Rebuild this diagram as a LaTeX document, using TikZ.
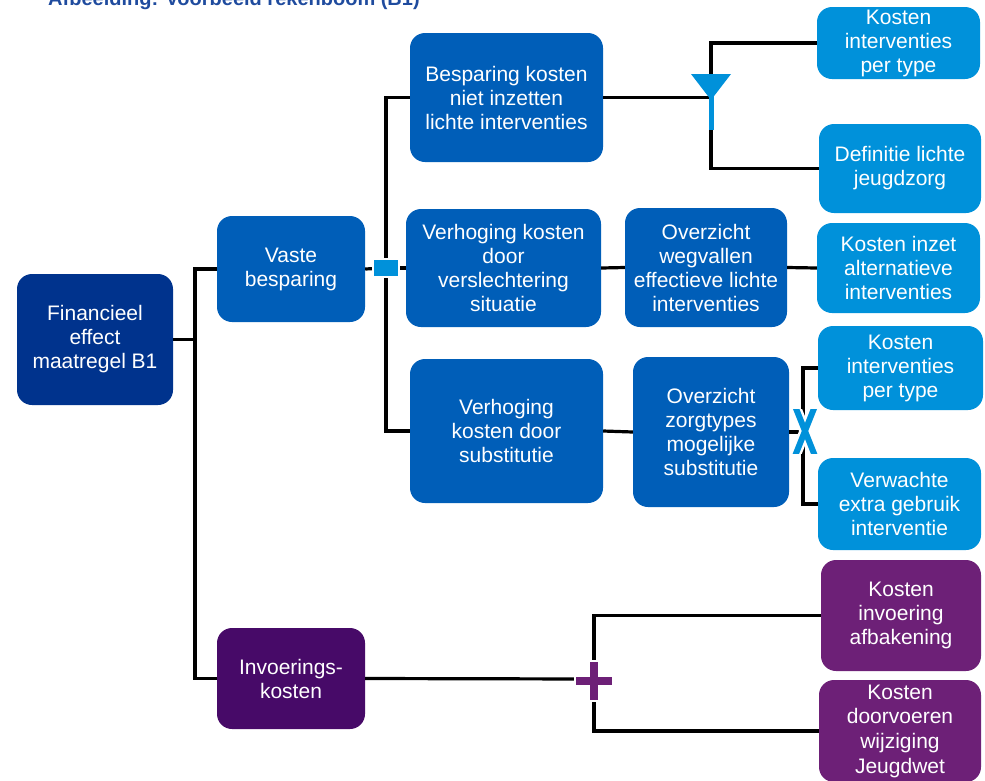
\documentclass[tikz,border=0pt]{standalone}
\usepackage{fontspec}
\setmainfont{Liberation Sans}
\definecolor{kdark}{HTML}{00338D}
\definecolor{kmed}{HTML}{005EB8}
\definecolor{klight}{HTML}{0091DA}
\definecolor{kpurp}{HTML}{470A68}
\definecolor{kviol}{HTML}{6D2077}
\definecolor{ktitle}{HTML}{1F4B9E}
\tikzset{
  box/.style={rectangle, rounded corners=15pt, draw=none, text=white, align=center,
    inner sep=0pt, font=\fontsize{21}{24}\selectfont,
    execute at begin node={\rule{0pt}{20pt}}},
  conn/.style={draw=black, line width=3.2pt},
}
\begin{document}
\begin{tikzpicture}[x=1pt,y=-1pt]
\useasboundingbox (0,0) rectangle (985,780);
% title (clipped at top, as in the reference)
\node[anchor=base west, inner sep=0pt, text=ktitle, font=\fontsize{20}{24}\selectfont\bfseries] (title) at (48,5) {Afbeelding: Voorbeeld rekenboom (B1)};
% boxes
\node[box, fill=kdark, minimum width=156pt, minimum height=131pt] (fin) at (95,339.5) {Financieel\\effect\\maatregel B1};
\node[box, fill=kmed, minimum width=148pt, minimum height=106pt] (vaste) at (291,269) {Vaste\\besparing};
\node[box, fill=kmed, minimum width=193pt, minimum height=129pt] (bes) at (506.5,97.5) {Besparing kosten\\niet inzetten\\lichte interventies};
\node[box, fill=kmed, minimum width=195pt, minimum height=118pt] (verv) at (503.5,268) {Verhoging kosten\\door\\verslechtering\\situatie};
\node[box, fill=kmed, minimum width=162pt, minimum height=119pt] (ovw) at (706,267.5) {Overzicht\\wegvallen\\effectieve lichte\\interventies};
\node[box, fill=kmed, minimum width=193pt, minimum height=144pt] (vsub) at (506.5,431) {Verhoging\\kosten door\\substitutie};
\node[box, fill=kmed, minimum width=156pt, minimum height=150pt] (ovz) at (711,432) {Overzicht\\zorgtypes\\mogelijke\\substitutie};
\node[box, fill=klight, minimum width=163pt, minimum height=72pt] (kip1) at (898.5,43) {Kosten\\interventies\\per type};
\node[box, fill=klight, minimum width=162pt, minimum height=89pt] (def) at (900,168.5) {Definitie lichte\\jeugdzorg};
\node[box, fill=klight, minimum width=163pt, minimum height=90pt] (kia) at (898.5,268) {Kosten inzet\\alternatieve\\interventies};
\node[box, fill=klight, minimum width=165pt, minimum height=84pt] (kip2) at (900.5,368) {Kosten\\interventies\\per type};
\node[box, fill=klight, minimum width=163pt, minimum height=92pt] (ver) at (899.5,504) {Verwachte\\extra gebruik\\interventie};
\node[box, fill=kpurp, minimum width=148pt, minimum height=101pt] (inv) at (291,678.5) {Invoerings-\\kosten};
\node[box, fill=kviol, minimum width=160pt, minimum height=111pt] (kia2) at (901,615.5) {Kosten\\invoering\\afbakening};
\node[box, fill=kviol, minimum width=162pt, minimum height=102pt, font=\fontsize{21}{24.7}\selectfont] (kdw) at (900,731) {Kosten\\doorvoeren\\wijziging\\Jeugdwet};
% junction coordinates
\coordinate (j1) at (195,339.5);
\coordinate (op1) at (386,268);
\coordinate (fun) at (711,97.5);
\coordinate (xop) at (803,432);
\coordinate (pl) at (594,679);
% connectors
\draw[conn] (fin.east) -- (j1);
\draw[conn] (vaste.west) -| (j1);
\draw[conn] (inv.west) -| (j1);
\draw[conn] (vaste.east) -- (op1);
\draw[conn] (op1) -- (verv.west);
\draw[conn] (bes.west) -| (op1);
\draw[conn] (vsub.west) -| (op1);
\draw[conn] (bes.east) -- (fun);
\draw[conn] (kip1.west) -| (fun);
\draw[conn] (def.west) -| (fun);
\draw[conn] (verv.east) -- (ovw.west);
\draw[conn] (ovw.east) -- (kia.west);
\draw[conn] (vsub.east) -- (ovz.west);
\draw[conn] (ovz.east) -- (xop);
\draw[conn] (kip2.west) -| (xop);
\draw[conn] (ver.west) -| (xop);
\draw[conn] (inv.east) -- (pl);
\draw[conn] (kia2.west) -| (pl);
\draw[conn] (kdw.west) -| (pl);
% operators
% minus
\filldraw[fill=klight, draw=white, line width=2pt] ([shift={(-13,-9)}]op1) rectangle ([shift={(13,9)}]op1);
% funnel
\fill[klight] (691,74) -- (731,74) -- (711,100) -- cycle;
\fill[klight] (708.5,95) rectangle (713.5,130);
% X
\begin{scope}
\clip (786,409) rectangle (824,453);
\draw[white, line width=11pt] (795,406) -- (815,456) (815,406) -- (795,456);
\draw[klight, line width=6pt] (795,406) -- (815,456) (815,406) -- (795,456);
\end{scope}
% plus
\filldraw[fill=kviol, draw=white, line width=2pt]
  (589,661) -- (599,661) -- (599,676) -- (613,676) -- (613,686) -- (599,686) -- (599,701)
  -- (589,701) -- (589,686) -- (575,686) -- (575,676) -- (589,676) -- cycle;
\end{tikzpicture}
\end{document}
